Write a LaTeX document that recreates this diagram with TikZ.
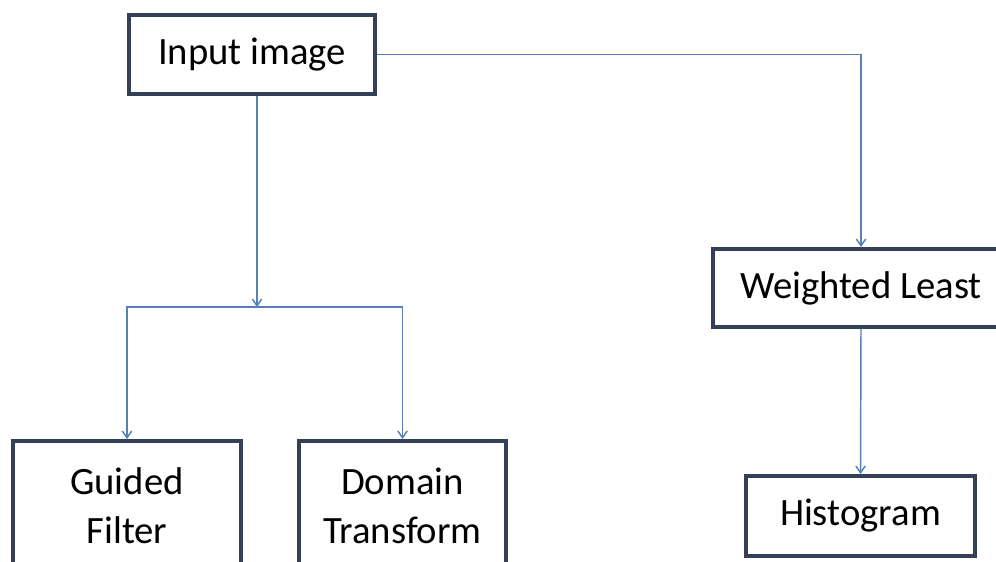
\documentclass[tikz,border=0pt]{standalone}
\usepackage{fontspec}
\setmainfont{Carlito}
\usetikzlibrary{arrows.meta}

\tikzset{every picture/.style={line width=0.75pt}}
\tikzset{
  blockbox/.style={draw={rgb, 255:red, 52; green, 64; blue, 88 }, line width=3pt, fill=white, align=center, inner sep=0pt, font=\fontsize{29}{36.75}\selectfont},
  flowline/.style={draw={rgb, 255:red, 86; green, 128; blue, 182 }, line width=1.1pt, -{Straight Barb[length=5pt,width=7pt]}}
}

\begin{document}
\begin{tikzpicture}[x=0.75pt,y=0.75pt,yscale=-1,xscale=1]
	\useasboundingbox (0,0) rectangle (996,561);
	\clip (0,0) rectangle (996,561);

	% Blocks
	\node[blockbox, minimum width=184.5pt, minimum height=59.25pt] (inp) at (252,54.5) {Input image};
	\node[blockbox, minimum width=171pt, minimum height=97.5pt] (guided) at (127,506) {Guided\\Filter};
	\node[blockbox, minimum width=155.25pt, minimum height=97.5pt] (domain) at (402.5,506) {Domain\\Transform};
	\node[blockbox, minimum width=222pt, minimum height=58.5pt] (wls) at (861,288) {Weighted Least};
	\node[blockbox, minimum width=171.75pt, minimum height=60pt] (hist) at (860.5,516) {Histogram};

	% Split point
	\coordinate (split) at (257,307);

	%Straight Lines
	\draw[flowline] (inp.south -| split) -- (split);
	\draw[flowline] (split) -| (guided.north);
	\draw[flowline] (split) -| (domain.north);
	\draw[flowline] (inp.east) -| (wls.north);
	\draw[flowline] (wls.south) -- (hist.north);

\end{tikzpicture}
\end{document}
